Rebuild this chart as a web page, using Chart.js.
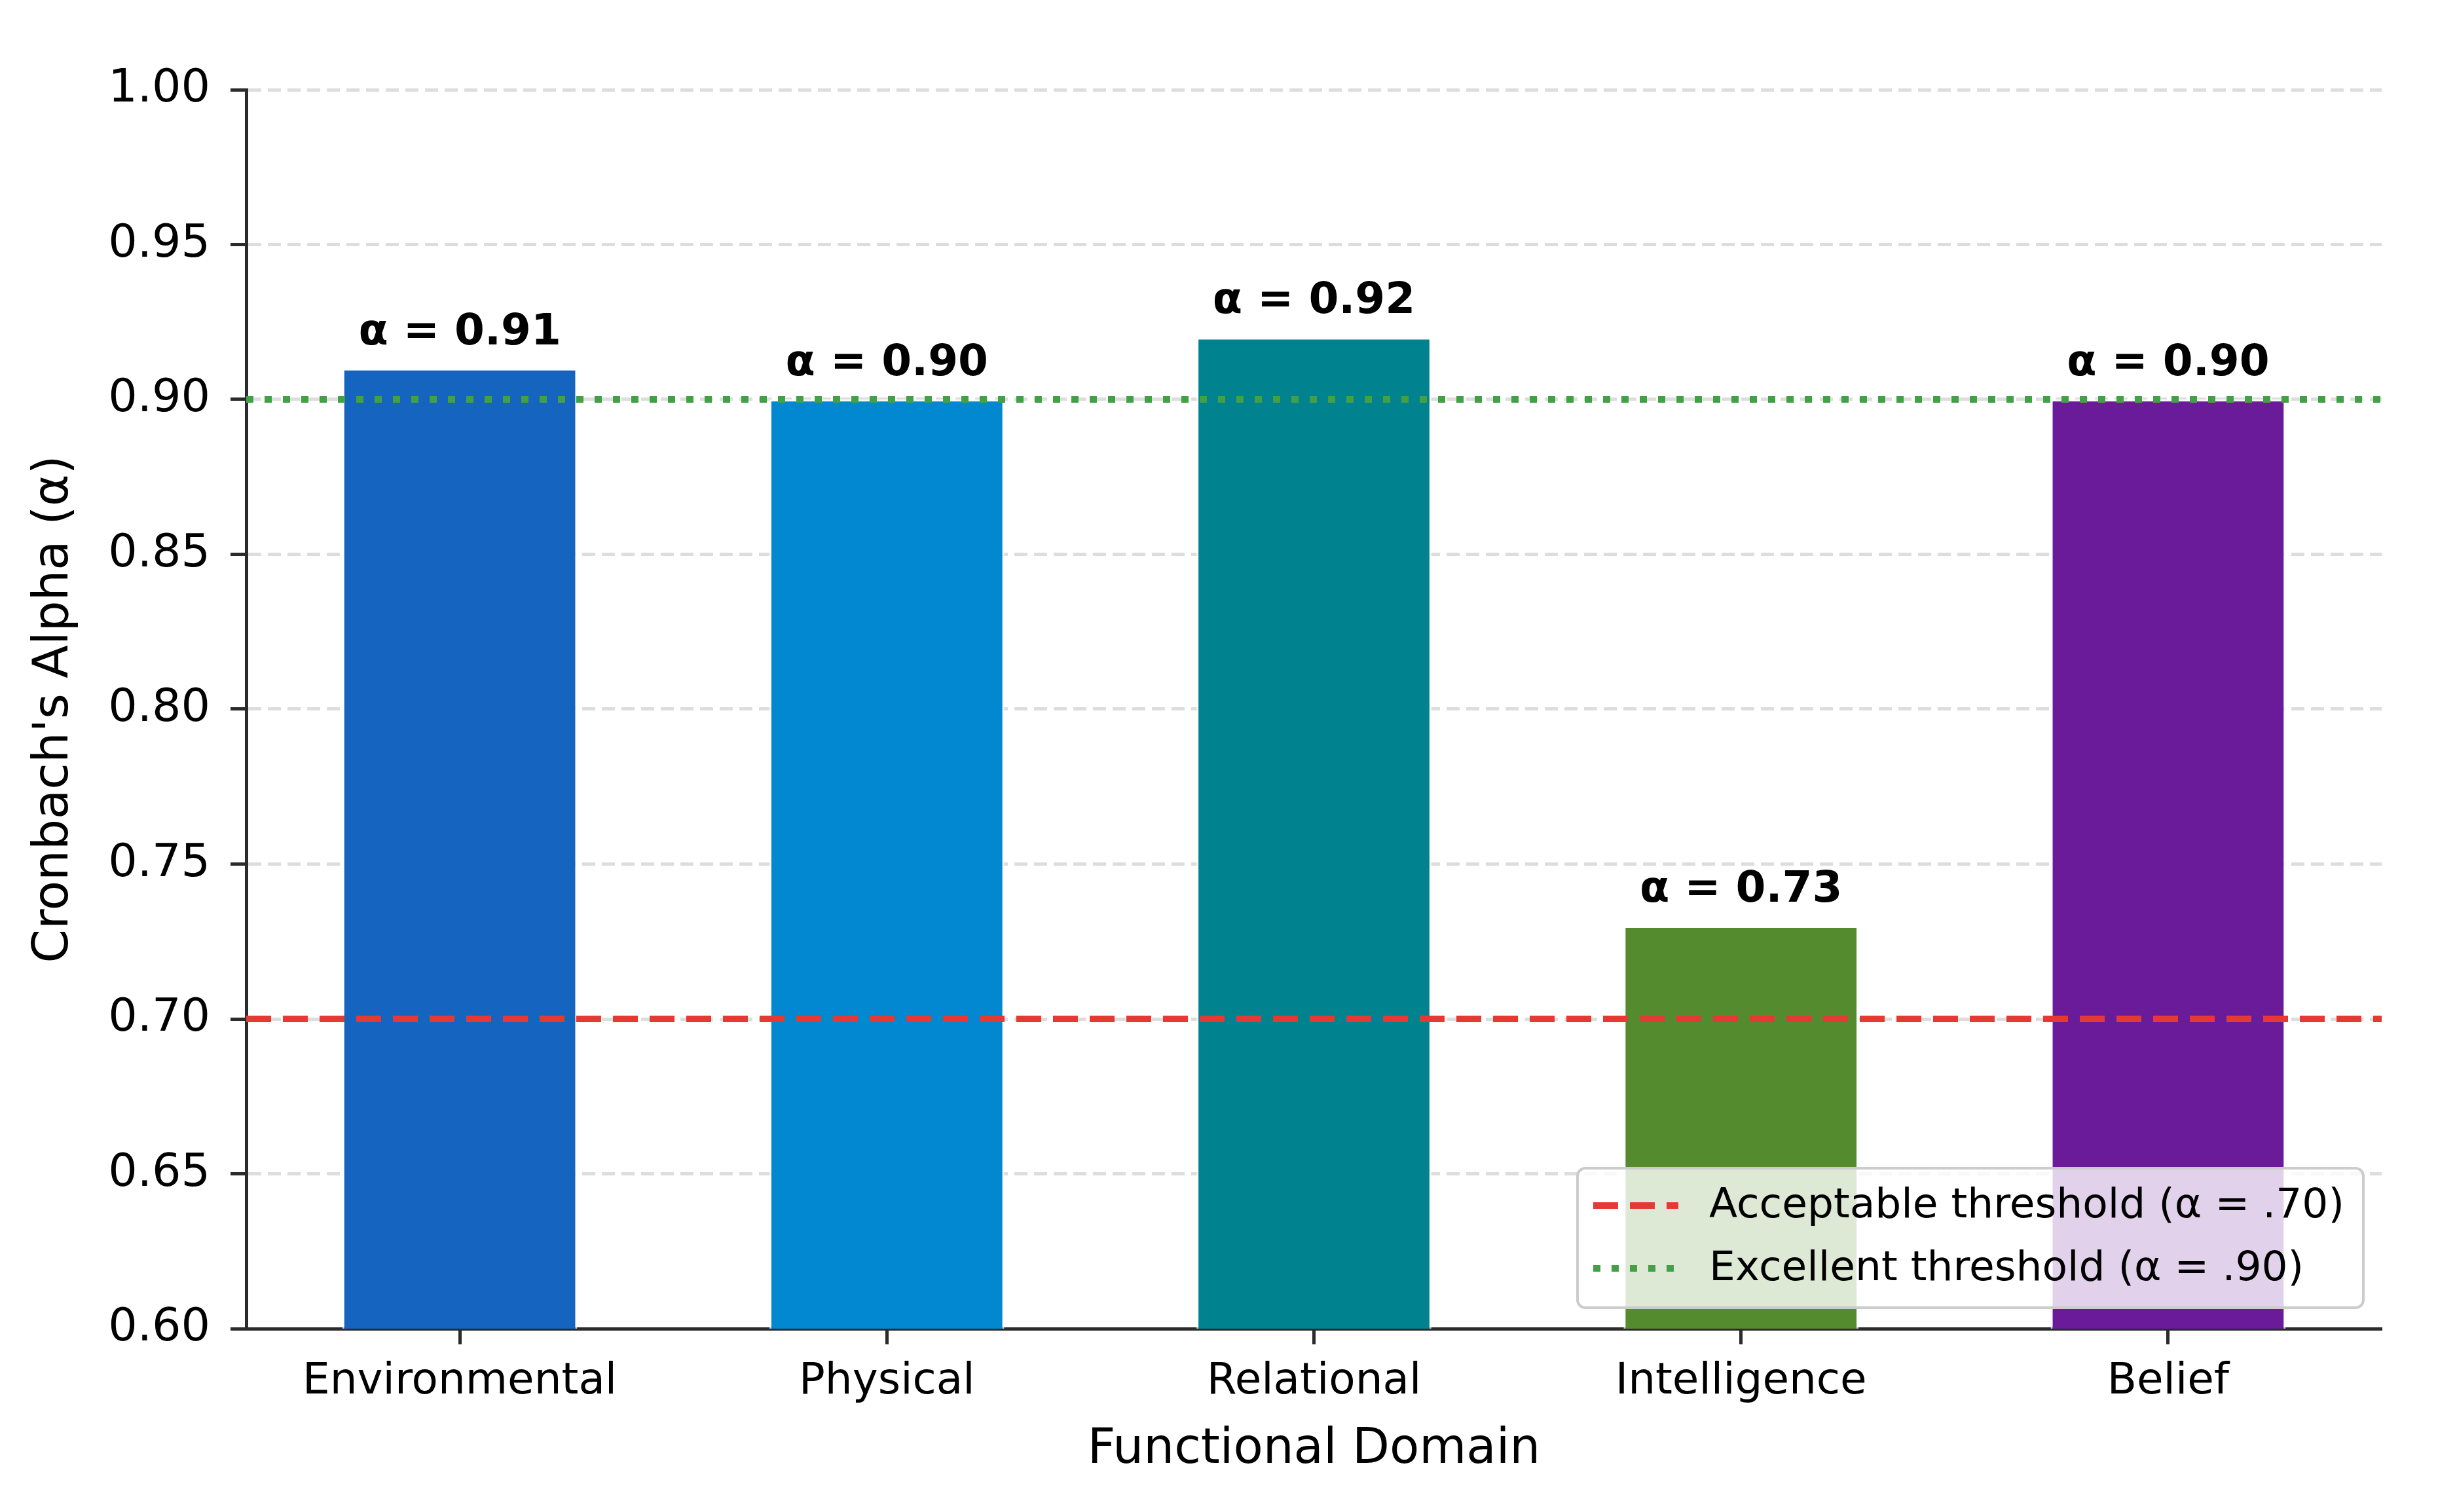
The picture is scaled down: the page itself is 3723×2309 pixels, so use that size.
<!DOCTYPE html>
<html>
<head>
<meta charset="utf-8">
<script src="https://cdn.jsdelivr.net/npm/chart.js@4.4.1/dist/chart.umd.min.js"></script>
<style>
html, body { margin: 0; padding: 0; background: #fff; }
#wrap { width: 3723px; height: 2309px; }
</style>
</head>
<body>
<div id="wrap"><canvas id="alpha-chart" width="3723" height="2309"></canvas></div>
<script>
// Data
const domains = ['Environmental', 'Physical', 'Relational', 'Intelligence', 'Belief'];
const alphas = [0.91, 0.90, 0.92, 0.73, 0.90];
const barColors = ['#1565c0', '#0288d1', '#00838f', '#558b2f', '#6a1b9a'];
const thresholdValues = [0.70, 0.90];
const thresholdLabels = ['Acceptable threshold (α = .70)', 'Excellent threshold (α = .90)'];
const yMin = 0.60;
const yMax = 1.00;
const yStep = 0.05;

const FONT = '"DejaVu Sans", "Liberation Sans", sans-serif';
const AXIS = '#2b2b2b';

// line styles for the two thresholds
const thresholdStyles = [
    { color: '#e53935', dash: [38, 18] },
    { color: '#43a047', dash: [11, 17] }
];

function drawThresholdHandle(ctx, i, x1, x2, y) {
    ctx.save();
    ctx.strokeStyle = thresholdStyles[i].color;
    ctx.lineWidth = 10;
    ctx.setLineDash(thresholdStyles[i].dash);
    ctx.beginPath();
    ctx.moveTo(x1, y);
    ctx.lineTo(x2, y);
    ctx.stroke();
    ctx.restore();
}

const overlayPlugin = {
    id: 'overlay',
    afterDatasetsDraw(chart) {
        const {ctx, chartArea, scales} = chart;
        const y = scales.y;

        // threshold lines across the plot
        ctx.save();
        ctx.beginPath();
        ctx.rect(chartArea.left, chartArea.top, chartArea.right - chartArea.left, chartArea.bottom - chartArea.top);
        ctx.clip();
        thresholdValues.forEach((v, i) => {
            const py = y.getPixelForValue(v);
            drawThresholdHandle(ctx, i, chartArea.left, chartArea.right, py);
        });
        ctx.restore();

        // value labels above bars
        const meta = chart.getDatasetMeta(0);
        ctx.save();
        ctx.font = 'bold 66px ' + FONT;
        ctx.fillStyle = '#000';
        ctx.textAlign = 'center';
        ctx.textBaseline = 'alphabetic';
        meta.data.forEach((bar, i) => {
            ctx.fillText('α = ' + alphas[i].toFixed(2), bar.x, bar.y - 37);
        });
        ctx.restore();
    },
    afterDraw(chart) {
        const {ctx, chartArea} = chart;
        ctx.save();
        ctx.font = '63px ' + FONT;
        const textW = Math.max(...thresholdLabels.map(t => ctx.measureText(t).width));
        const padL = 24, handleLen = 130, gap = 47, padR = 29, padT = 57, rowH = 96, padB = 60;
        const w = padL + handleLen + gap + textW + padR;
        const h = padT + rowH * (thresholdLabels.length - 1) + padB;
        const bx = chartArea.right - 28 - w;
        const by = chartArea.bottom - 32 - h;

        ctx.beginPath();
        ctx.roundRect(bx, by, w, h, 12);
        ctx.fillStyle = 'rgba(255,255,255,0.8)';
        ctx.fill();
        ctx.lineWidth = 4;
        ctx.strokeStyle = '#cccccc';
        ctx.stroke();

        thresholdLabels.forEach((label, i) => {
            const cy = by + padT + i * rowH;
            drawThresholdHandle(ctx, i, bx + padL, bx + padL + handleLen, cy);
            ctx.fillStyle = '#000';
            ctx.textAlign = 'left';
            ctx.textBaseline = 'middle';
            ctx.fillText(label, bx + padL + handleLen + gap, cy + 2);
        });
        ctx.restore();
    }
};

const ctx = document.getElementById('alpha-chart').getContext('2d');

new Chart(ctx, {
    type: 'bar',
    data: {
        labels: domains,
        datasets: [{
            data: alphas,
            backgroundColor: barColors,
            borderColor: 'rgba(255,255,255,0.75)',
            borderWidth: 3,
            barPercentage: 0.55,
            categoryPercentage: 1.0
        }]
    },
    options: {
        responsive: false,
        devicePixelRatio: 1,
        animation: false,
        layout: { padding: { top: 137, right: 86, left: 0, bottom: 0 } },
        plugins: {
            legend: { display: false },
            tooltip: { enabled: false }
        },
        scales: {
            x: {
                type: 'category',
                offset: true,
                grid: {
                    display: true,
                    offset: false,
                    drawOnChartArea: false,
                    drawTicks: true,
                    tickLength: 24,
                    tickColor: AXIS,
                    tickWidth: 5
                },
                border: { display: true, color: AXIS, width: 5 },
                ticks: { color: '#000', font: { family: FONT, size: 66 }, padding: 18, maxRotation: 0 },
                title: {
                    display: true,
                    text: 'Functional Domain',
                    color: '#000',
                    font: { family: FONT, size: 74 },
                    padding: { top: 0, bottom: 50 }
                },
                afterFit(scale) { scale.height = 280; }
            },
            y: {
                min: yMin,
                max: yMax,
                ticks: {
                    stepSize: yStep,
                    color: '#000',
                    font: { family: FONT, size: 70 },
                    padding: 31,
                    callback: v => Number(v).toFixed(2)
                },
                grid: {
                    color: '#dddddd',
                    lineWidth: 5,
                    drawTicks: true,
                    tickLength: 24,
                    tickColor: AXIS,
                    tickWidth: 5,
                    tickBorderDash: []
                },
                border: { display: true, color: AXIS, width: 5, dash: [20, 10] },
                title: {
                    display: true,
                    text: "Cronbach's Alpha (α)",
                    color: '#000',
                    font: { family: FONT, size: 74 },
                    padding: { top: 39, bottom: 0 }
                },
                afterFit(scale) { scale.width = 376; }
            }
        }
    },
    plugins: [overlayPlugin]
});
</script>
</body>
</html>
